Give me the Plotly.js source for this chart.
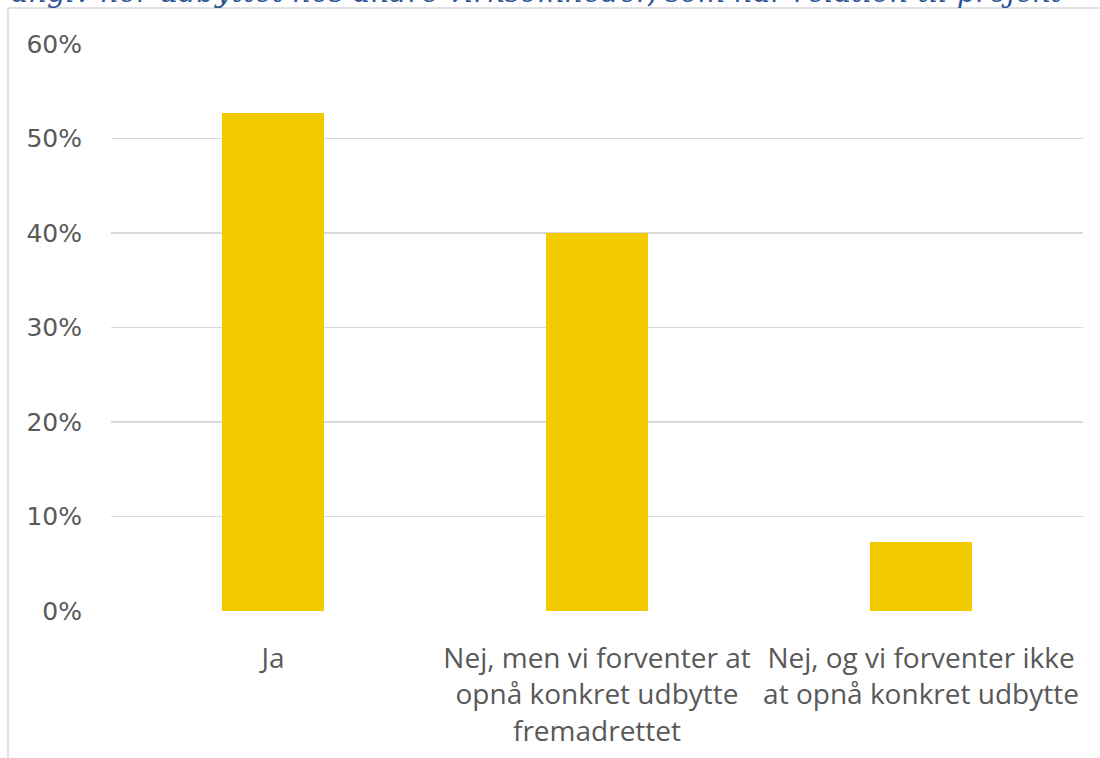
<!DOCTYPE html>
<html>
<head>
<meta charset="utf-8">
<script src="https://cdn.plot.ly/plotly-3.0.1.min.js"></script>
<style>
html,body{margin:0;padding:0;background:#fff;}
#chart{width:1100px;height:758px;}
</style>
</head>
<body>
<div id="chart"></div>
<script>
const categories = [
  "Ja",
  "Nej, men vi forventer at<br>opnå konkret udbytte<br>fremadrettet",
  "Nej, og vi forventer ikke<br>at opnå konkret udbytte"
];
const values = [0.527, 0.40, 0.073];
const yTickValues = [0, 0.1, 0.2, 0.3, 0.4, 0.5, 0.6];
const titleText = "angiv her udbyttet hos andre virksomheder, som har relation til projekt";

const trace = {
  type: "bar",
  x: categories,
  y: values,
  marker: {color: "#F2CA00"},
  hoverinfo: "none"
};

const layout = {
  width: 1100,
  height: 758,
  margin: {l: 111, r: 17, t: 44, b: 147},
  paper_bgcolor: "#ffffff",
  plot_bgcolor: "#ffffff",
  bargap: 0.685,
  showlegend: false,
  xaxis: {
    type: "category",
    showgrid: false,
    zeroline: false,
    showline: false,
    ticks: "",
    tickfont: {family: "Open Sans", size: 28, color: "#595959"},
    ticklabelstandoff: 28
  },
  yaxis: {
    range: [0, 0.6],
    tickvals: yTickValues,
    tickformat: ".0%",
    showgrid: true,
    gridcolor: "#D9D9D9",
    gridwidth: 1.5,
    zeroline: false,
    showline: false,
    ticks: "",
    tickfont: {family: "DejaVu Sans", size: 25, color: "#595959"},
    ticklabelstandoff: 28
  },
  shapes: [{
    type: "rect",
    xref: "paper", yref: "paper",
    x0: -0.106, x1: 1.05,
    y0: -0.4, y1: 1.0635,
    line: {color: "#D9D9D9", width: 1.5},
    fillcolor: "rgba(0,0,0,0)",
    layer: "below"
  }],
  annotations: [{
    text: "<i>" + titleText + "</i>",
    xref: "paper", yref: "paper",
    x: -0.104, y: 1.092,
    xanchor: "left", yanchor: "middle",
    showarrow: false,
    borderpad: 0,
    font: {family: "DejaVu Serif", size: 29, color: "#2F5496"}
  }]
};

Plotly.newPlot("chart", [trace], layout, {displayModeBar: false, staticPlot: true});
</script>
</body>
</html>
